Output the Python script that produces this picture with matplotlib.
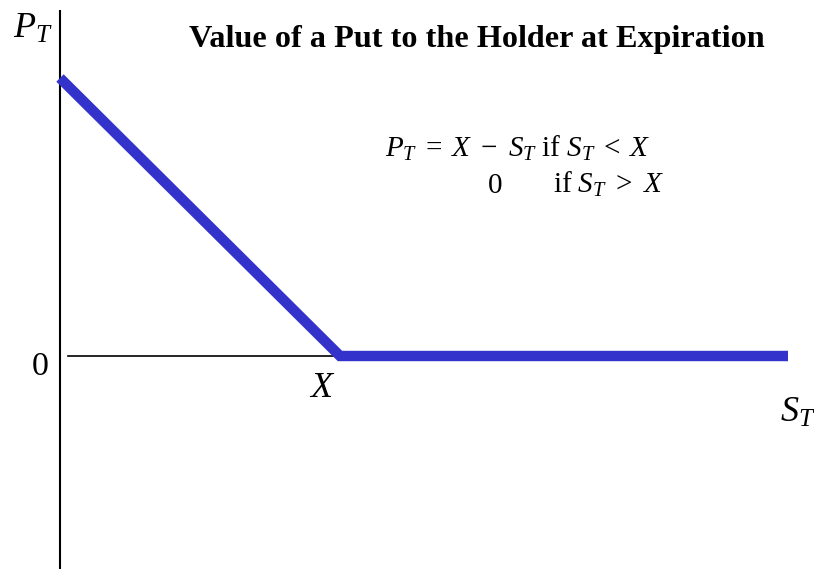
import matplotlib
matplotlib.use("Agg")
import matplotlib.pyplot as plt

# payoff of a put at expiration, strike X = 1
strike = 1.0
s_t = [0.0, 1.0, 2.6]
payoff = [1.0, 0.0, 0.0]

plt.rcParams['font.family'] = ['Liberation Serif', 'DejaVu Serif']
plt.rcParams['mathtext.fontset'] = 'custom'
plt.rcParams['mathtext.rm'] = 'Liberation Serif'
plt.rcParams['mathtext.it'] = 'Liberation Serif:italic'
plt.rcParams['mathtext.bf'] = 'Liberation Serif:bold'

fig = plt.figure(figsize=(8.14, 5.69), dpi=100)
ax = fig.add_axes([0, 0, 1, 1])
ax.set_xlim(-60 / 280, 754 / 280)
ax.set_ylim(-213 / 278, 356 / 278)
ax.axis('off')

# axes drawn by hand
ax.plot([0, 0], [-213 / 278, 346 / 278], color='black', lw=1.5, solid_capstyle='butt')
ax.plot([0.03, strike - 0.01], [0, 0], color='black', lw=1.2)

ax.plot(s_t, payoff, color='#3333cc', lw=7.5, solid_capstyle='butt', solid_joinstyle='miter')

ax.text(1.489, 1.111, 'Value of a Put to the Holder at Expiration', fontsize=23.2,
        fontweight='bold', ha='center', va='baseline')
ax.text(-0.168, 1.144, r'$P_T$', fontsize=26, ha='left', va='baseline')
ax.text(-0.039, -0.068, '0', fontsize=24.5, ha='right', va='baseline')
ax.text(strike - 0.0625, -0.147, r'$X$', fontsize=26, ha='center', va='baseline')
ax.text(2.571, -0.237, r'$S_T$', fontsize=26, ha='left', va='baseline')

ax.text(1.161, 0.716, r'$P_T\;=\;X\ -\ S_T\ \mathrm{if}\ S_T\;<\;X$', fontsize=21,
        ha='left', va='baseline')
ax.text(1.529, 0.586, '0', fontsize=21, ha='left', va='baseline')
ax.text(1.761, 0.586, r'$\mathrm{if}\ S_T\ >\ X$', fontsize=21, ha='left', va='baseline')

fig.savefig('out.png', dpi=100)
